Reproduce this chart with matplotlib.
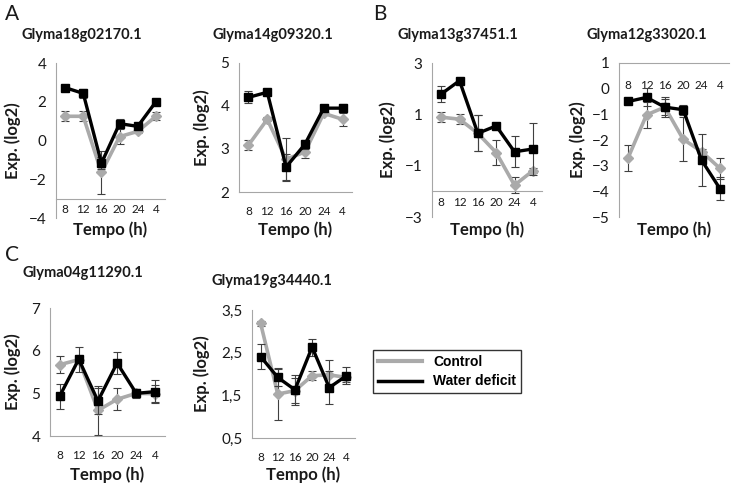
import numpy as np
import matplotlib.pyplot as plt
from matplotlib.lines import Line2D

plt.rcParams['font.family'] = ['Lato', 'DejaVu Sans']

tempo = ['8', '12', '16', '20', '24', '4']

# Glyma18g02170.1
ctrl_a1 = [1.25, 1.25, -1.65, 0.2, 0.47, 1.25]
ctrl_a1_err = [0.25, 0.25, 1.1, 0.4, 0.1, 0.2]
wd_a1 = [2.73, 2.43, -1.17, 0.87, 0.73, 2.0]
wd_a1_err = [0.1, 0.25, 0.3, 0.25, 0.1, 0.1]

# Glyma14g09320.1
ctrl_a2 = [3.09, 3.69, 2.76, 2.93, 3.83, 3.69]
ctrl_a2_err = [0.12, 0.05, 0.5, 0.15, 0.05, 0.15]
wd_a2 = [4.2, 4.32, 2.58, 3.11, 3.95, 3.95]
wd_a2_err = [0.14, 0.05, 0.3, 0.1, 0.05, 0.1]

# Glyma13g37451.1
ctrl_b1 = [0.89, 0.81, 0.26, -0.49, -1.76, -1.2]
ctrl_b1_err = [0.2, 0.2, 0.7, 0.5, 0.3, 0.1]
wd_b1 = [1.79, 2.31, 0.26, 0.55, -0.46, -0.35]
wd_b1_err = [0.3, 0.05, 0.7, 0.05, 0.6, 1.0]

# Glyma12g33020.1
ctrl_b2 = [-2.69, -1.02, -0.72, -1.97, -2.45, -3.1]
ctrl_b2_err = [0.5, 0.5, 0.3, 0.85, 0.1, 0.4]
wd_b2 = [-0.5, -0.34, -0.72, -0.82, -2.78, -3.89]
wd_b2_err = [0.05, 0.35, 0.4, 0.2, 1.0, 0.45]

# Glyma04g11290.1
ctrl_c1 = [5.67, 5.79, 4.6, 4.86, 5.0, 4.99]
ctrl_c1_err = [0.2, 0.05, 0.58, 0.26, 0.05, 0.2]
wd_c1 = [4.93, 5.8, 4.82, 5.71, 5.0, 5.04]
wd_c1_err = [0.29, 0.29, 0.3, 0.25, 0.1, 0.27]

# Glyma19g34440.1
ctrl_c2 = [3.19, 1.53, 1.61, 1.96, 1.98, 1.92]
ctrl_c2_err = [0.06, 0.6, 0.3, 0.1, 0.35, 0.1]
wd_c2 = [2.41, 1.92, 1.63, 2.63, 1.68, 1.96]
wd_c2_err = [0.3, 0.2, 0.35, 0.2, 0.38, 0.2]

W, H = 733, 486
fig = plt.figure(figsize=(W / 100, H / 100), dpi=100)

axis_grey = '#a6a6a6'
txt = '#1a1a1a'


def panel(title, ctrl, ctrl_err, wd, wd_err, box, ylim, yticks, cross,
          ylab_x, title_xy, tempo_y, lab_pad=4, comma=False):
    x0, x1, ytop, ybot = box
    ax = fig.add_axes([x0 / W, 1 - ybot / H, (x1 - x0) / W, (ybot - ytop) / H])
    x = np.arange(len(tempo))
    ax.errorbar(x, ctrl, yerr=ctrl_err, color='#aaaaaa', lw=2.6, marker='D',
                ms=5.5, ecolor='#404040', elinewidth=0.8, capsize=3, capthick=0.8,
                zorder=2)
    ax.errorbar(x, wd, yerr=wd_err, color='black', lw=2.4, marker='s',
                ms=6, ecolor='#404040', elinewidth=0.8, capsize=3, capthick=0.8,
                zorder=3)
    ax.set_xlim(-0.5, 5.5)
    ax.set_ylim(*ylim)
    for s in ['right', 'top']:
        ax.spines[s].set_visible(False)
    ax.spines['left'].set_color(axis_grey)
    ax.spines['bottom'].set_color(axis_grey)
    ax.spines['bottom'].set_position(('data', cross))
    ax.set_xticks(x)
    ax.set_xticklabels(tempo, fontsize=8.5, color=txt)
    ax.set_yticks(yticks)
    if comma:
        ax.set_yticklabels([f'{v:.1f}'.replace('.', ',') for v in yticks])
    ax.tick_params(axis='y', length=0, pad=7, labelsize=11, labelcolor=txt)
    ax.tick_params(axis='x', length=0, pad=lab_pad)
    ax.patch.set_alpha(0)
    fig.text(ylab_x / W, 1 - (ytop + ybot) / 2 / H, 'Exp. (log2)', rotation=90,
             ha='center', va='center', fontsize=12, fontweight='bold', color=txt)
    fig.text(title_xy[0] / W, 1 - title_xy[1] / H, title, ha='center',
             va='center', fontsize=10.5, fontweight='bold', color=txt)
    fig.text((x0 + x1) / 2 / W, 1 - tempo_y / H, 'Tempo (h)', ha='center',
             va='center', fontsize=12, fontweight='bold', color=txt)
    return ax


panel('Glyma18g02170.1', ctrl_a1, ctrl_a1_err, wd_a1, wd_a1_err,
      (56, 165, 63, 218), (-4, 4), [-4, -2, 0, 2, 4], -3, 13, (82, 35), 230)
panel('Glyma14g09320.1', ctrl_a2, ctrl_a2_err, wd_a2, wd_a2_err,
      (239, 352, 63, 192), (2, 5), [2, 3, 4, 5], 2, 202, (273, 35), 230,
      lab_pad=10)
panel('Glyma13g37451.1', ctrl_b1, ctrl_b1_err, wd_b1, wd_b1_err,
      (432, 542, 63, 217), (-3, 3), [-3, -1, 1, 3], -2, 388, (458, 35), 230)
panel('Glyma12g33020.1', ctrl_b2, ctrl_b2_err, wd_b2, wd_b2_err,
      (619, 729, 63, 217), (-5, 1), [-5, -4, -3, -2, -1, 0, 1], 1, 578,
      (647, 35), 230, lab_pad=12)
panel('Glyma04g11290.1', ctrl_c1, ctrl_c1_err, wd_c1, wd_c1_err,
      (50, 165, 308, 436), (4, 7), [4, 5, 6, 7], 4, 13, (83, 273), 475,
      lab_pad=10)
panel('Glyma19g34440.1', ctrl_c2, ctrl_c2_err, wd_c2, wd_c2_err,
      (252, 355, 310, 438), (0.5, 3.5), [0.5, 1.5, 2.5, 3.5], 0.5, 202,
      (272, 281), 475, lab_pad=10, comma=True)

# panel letters
fig.text(5 / W, 1 - 14 / H, 'A', fontsize=15, va='center', color=txt)
fig.text(373 / W, 1 - 14 / H, 'B', fontsize=15, va='center', color=txt)
fig.text(5 / W, 1 - 255 / H, 'C', fontsize=15, va='center', color=txt)

handles = [Line2D([], [], color='#aaaaaa', lw=3),
           Line2D([], [], color='black', lw=2.5)]
leg = fig.legend(handles, ['Control', 'Water deficit'], loc='upper left',
                 bbox_to_anchor=(373 / W, 1 - 350 / H), frameon=True,
                 fancybox=False, handlelength=3.2, handletextpad=0.8,
                 borderpad=0.35, labelspacing=0.4, borderaxespad=0,
                 prop={'family': 'Liberation Sans', 'weight': 'bold', 'size': 10})
leg.get_frame().set_edgecolor('black')
leg.get_frame().set_linewidth(1)

fig.savefig('out.png', dpi=100)
